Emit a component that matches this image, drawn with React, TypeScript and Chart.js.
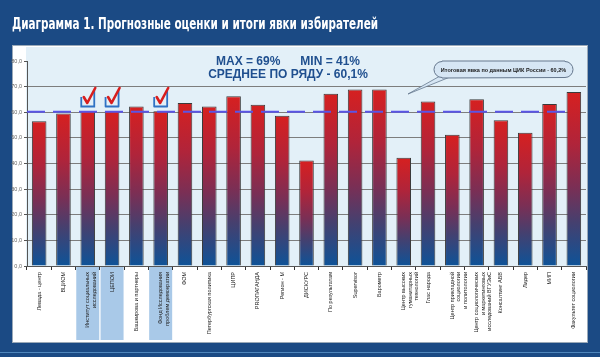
import React, { useEffect, useRef } from 'react';
import { Chart, registerables } from 'chart.js';
Chart.register(...registerables);

const titleText = 'Диаграмма 1. Прогнозные оценки и итоги явки избирателей';
const categories: (string | string[])[] = [
  'Левада - центр',
  'ВЦИОМ',
  ['Институт социальных', 'исследований'],
  'ЦЕПОИ',
  'Башкирова и партнеры',
  ['Фонд Исследования', 'проблем демократии'],
  'ФОМ',
  'Петербургская политика',
  'ЦИПР',
  'PROПАГАНДА',
  'Регион - М',
  'ДИСКУРС',
  'По результатам',
  'Supervisor',
  'Барометр',
  ['Центр высоких', 'гуманитарных', 'технологий'],
  'Глас народа',
  ['Центр прикладной', 'социологии', 'и политологии'],
  ['Центр социологических', 'и маркетинговых', 'исследований ВГУЭиС'],
  'Консалтинг АБВ',
  'Лидер',
  'МИП',
  'Факультет социологии',
];
const turnout = [56.5, 59.5, 60.5, 60.5, 62.2, 60.4, 63.6, 62.2, 66.2, 62.9, 58.6, 41.2, 67.2, 68.9, 68.9, 42.2, 64.2, 51.2, 65.1, 56.9, 52.0, 63.2, 67.9];
const checkedIdx = [2, 3, 5];
const cikTurnout = 60.2;
const statLine1 = 'MAX = 69%      MIN = 41%';
const statLine2 = 'СРЕДНЕЕ ПО РЯДУ - 60,1%';
const calloutText = 'Итоговая явка по данным ЦИК России - 60,2%';
const yMin = 0;
const yMax = 80;
const yStep = 10;

const DARK = '#1b4a84';

const decorPlugin = {
  id: 'decor',
  beforeDraw(chart: any) {
    const { ctx, chartArea, width, height } = chart;
    ctx.save();
    ctx.fillStyle = DARK;
    ctx.fillRect(0, 0, width, height);
    ctx.fillStyle = '#4f86bb';
    ctx.fillRect(0, 352, width, 1);
    ctx.fillStyle = '#ffffff';
    ctx.font = 'bold 16px "Liberation Sans Narrow", "DejaVu Sans Condensed", sans-serif';
    ctx.textBaseline = 'alphabetic';
    const w = ctx.measureText(titleText).width;
    ctx.save();
    ctx.translate(12, 29);
    ctx.scale(366 / w, 1);
    ctx.fillText(titleText, 0, 0);
    ctx.restore();
    ctx.fillStyle = '#ffffff';
    ctx.fillRect(12, 45, 576, 298);
    ctx.strokeStyle = '#9aa9b8';
    ctx.lineWidth = 1;
    ctx.strokeRect(12.5, 45.5, 575, 297);
    ctx.fillStyle = '#e3f0f8';
    ctx.fillRect(chartArea.left - 1, 47, chartArea.right - chartArea.left + 2, chartArea.bottom - 47);
    const x = chart.scales.x;
    ctx.fillStyle = '#a9c9e8';
    checkedIdx.forEach((i) => {
      const cx = x.getPixelForValue(i);
      ctx.fillRect(cx - 11.5, chartArea.bottom + 1, 23, 340 - chartArea.bottom - 1);
    });
    ctx.restore();
  },
  afterDatasetsDraw(chart: any) {
    const { ctx, chartArea, scales } = chart;
    ctx.save();
    const yy = scales.y.getPixelForValue(cikTurnout);
    ctx.strokeStyle = '#5a55e6';
    ctx.lineWidth = 2;
    ctx.setLineDash([18, 8]);
    ctx.beginPath();
    ctx.moveTo(chartArea.left, yy);
    ctx.lineTo(chartArea.right - 16, yy);
    ctx.stroke();
    ctx.setLineDash([]);
    checkedIdx.forEach((i) => {
      const cx = scales.x.getPixelForValue(i);
      const l = cx - 6.5, r = cx + 6.5, b = 106.5, tl = 97, tr = 90;
      ctx.strokeStyle = '#2f72c4';
      ctx.lineWidth = 1.8;
      ctx.beginPath();
      ctx.moveTo(l, tl);
      ctx.lineTo(l, b);
      ctx.lineTo(r, b);
      ctx.lineTo(r, tr);
      ctx.stroke();
      ctx.strokeStyle = '#d81e1e';
      ctx.lineWidth = 2.6;
      ctx.lineCap = 'round';
      ctx.lineJoin = 'round';
      ctx.beginPath();
      ctx.moveTo(l + 2.5, 97);
      ctx.lineTo(cx - 0.5, 103);
      ctx.lineTo(r + 1, 88);
      ctx.stroke();
      ctx.lineCap = 'butt';
    });
    ctx.restore();
  },
  afterDraw(chart: any) {
    const { ctx } = chart;
    ctx.save();
    ctx.fillStyle = '#1f4f8f';
    ctx.font = 'bold 12px "Liberation Sans", Arial, sans-serif';
    ctx.textAlign = 'center';
    ctx.textBaseline = 'middle';
    ctx.fillText(statLine1, 288, 62);
    ctx.fillText(statLine2, 288, 75);
    ctx.fillStyle = '#d6e6f4';
    ctx.strokeStyle = '#66788e';
    ctx.lineWidth = 0.8;
    ctx.beginPath();
    ctx.moveTo(440, 76);
    ctx.lineTo(408, 94);
    ctx.lineTo(450, 77);
    ctx.closePath();
    ctx.fill();
    ctx.stroke();
    const px = 434, py = 61, pw = 139, ph = 17, rr = 8;
    ctx.beginPath();
    ctx.moveTo(px + rr, py);
    ctx.lineTo(px + pw - rr, py);
    ctx.arc(px + pw - rr, py + rr + 0.5, rr, -Math.PI / 2, Math.PI / 2);
    ctx.lineTo(px + rr, py + ph);
    ctx.arc(px + rr, py + rr + 0.5, rr, Math.PI / 2, Math.PI * 1.5);
    ctx.closePath();
    ctx.fillStyle = '#d6e6f4';
    ctx.fill();
    ctx.strokeStyle = '#66788e';
    ctx.lineWidth = 1;
    ctx.stroke();
    ctx.fillStyle = '#1a1a1a';
    ctx.font = 'bold 5.5px "Liberation Sans", Arial, sans-serif';
    ctx.fillText(calloutText, px + pw / 2, py + ph / 2 + 0.5);
    ctx.restore();
  },
};

export default function App() {
  const ref = useRef<HTMLCanvasElement>(null);
  useEffect(() => {
    if (!ref.current) return;
    const chart = new Chart(ref.current, {
      type: 'bar',
      data: {
        labels: categories,
        datasets: [
          {
            data: turnout,
            backgroundColor: (c: any) => {
              const ch = c.chart;
              if (!ch.chartArea || c.raw == null) return '#a02a40';
              const ys = ch.scales.y;
              const top = ys.getPixelForValue(c.raw);
              const bot = ys.getPixelForValue(0);
              const g = ch.ctx.createLinearGradient(0, top, 0, bot);
              g.addColorStop(0, '#d62020');
              g.addColorStop(0.3, '#b0243a');
              g.addColorStop(0.55, '#7a2f55');
              g.addColorStop(0.75, '#45406f');
              g.addColorStop(1, '#0e5398');
              return g;
            },
            borderColor: '#3a3a3a',
            borderWidth: 1,
            barPercentage: 0.6,
            categoryPercentage: 1,
          },
        ],
      },
      options: {
        responsive: false,
        animation: false,
        devicePixelRatio: 1,
        layout: { padding: { top: 61, right: 14, bottom: 14, left: 0 } },
        plugins: { legend: { display: false }, tooltip: { enabled: false }, title: { display: false } },
        scales: {
          x: {
            offset: true,
            afterFit: (s: any) => { s.height = 77; },
            grid: { display: true, drawOnChartArea: false, offset: true, color: '#333', tickLength: 4 },
            border: { display: true, color: '#555' },
            ticks: {
              autoSkip: false,
              maxRotation: 90,
              minRotation: 90,
              padding: 2,
              color: '#222',
              font: { size: 5.5, family: '"Liberation Sans", Arial, sans-serif' },
            },
          },
          y: {
            min: yMin,
            max: yMax,
            afterFit: (s: any) => { s.width = 27; },
            grid: {
              color: (c: any) => (c.tick && c.tick.value === yMax ? 'rgba(0,0,0,0)' : '#7d7d7d'),
              tickColor: '#555',
              tickLength: 3,
            },
            border: { display: true, color: '#555' },
            ticks: {
              stepSize: yStep,
              padding: 2,
              color: '#666',
              font: { size: 5.5, family: '"Liberation Sans", Arial, sans-serif' },
              callback: (v: any) => Number(v).toFixed(1).replace('.', ','),
            },
          },
        },
      },
      plugins: [decorPlugin],
    } as any);
    return () => chart.destroy();
  }, []);
  return (
    <div style={{ position: 'absolute', left: 0, top: 0, width: 600, height: 357 }}>
      <canvas ref={ref} width={600} height={357} style={{ width: 600, height: 357, display: 'block' }} />
    </div>
  );
}
